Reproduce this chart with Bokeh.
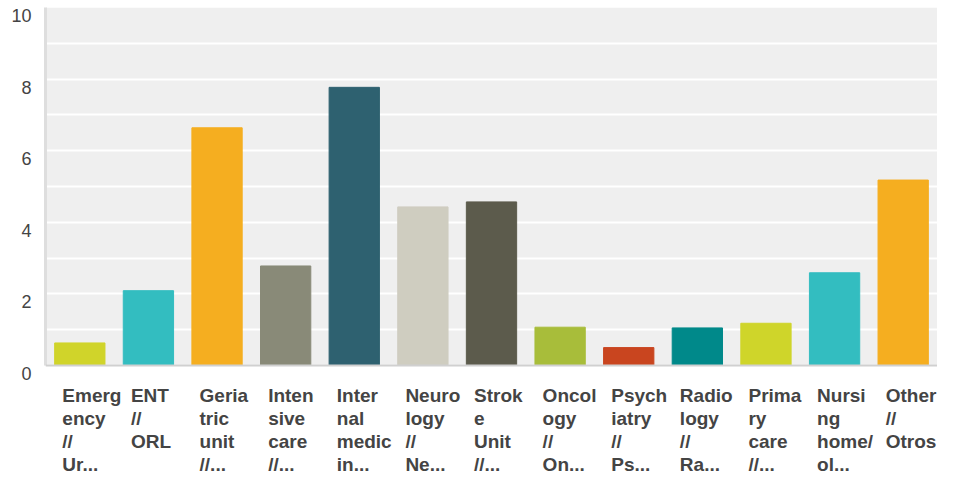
from bokeh.plotting import figure
from bokeh.models import (ColumnDataSource, FixedTicker, Range1d, LinearAxis,
                          BoxAnnotation, Span)
from bokeh.core.properties import value
from bokeh.embed import file_html
from bokeh.resources import INLINE

labels = [
    "Emerg\nency\n//\nUr...",
    "ENT\n//\nORL",
    "Geria\ntric\nunit\n//...",
    "Inten\nsive\ncare\n//...",
    "Inter\nnal\nmedic\nin...",
    "Neuro\nlogy\n//\nNe...",
    "Strok\ne\nUnit\n//...",
    "Oncol\nogy\n//\nOn...",
    "Psych\niatry\n//\nPs...",
    "Radio\nlogy\n//\nRa...",
    "Prima\nry\ncare\n//...",
    "Nursi\nng\nhome/\nol...",
    "Other\n//\nOtros",
]
values = [0.63, 2.09, 6.64, 2.78, 7.77, 4.43, 4.57, 1.07, 0.50, 1.05, 1.18, 2.59, 5.18]
colors = ["#d0d42a", "#33bdc0", "#f5ae20", "#898a78", "#2e6170", "#cfcdc0", "#5c5b4c",
          "#a8bd3a", "#c9451f", "#00898a", "#cfd52a", "#33bdc0", "#f5ae20"]
y_ticks = [0, 2, 4, 6, 8, 10]
grid_ticks = list(range(0, 11))
Y_MAX = 10

# ---- layout constants (pixels) ----
WIDTH, HEIGHT = 937, 475
FRAME_LEFT = 45
FRAME_TOP = 7           # top of plotting area
AXIS_Y = 365            # pixel row of value 0
PX_PER_UNIT = (AXIS_Y - FRAME_TOP) / Y_MAX
Y_BOTTOM = -(HEIGHT - AXIS_Y) / PX_PER_UNIT
LABEL_SHIFT = 8.0 / PX_PER_UNIT      # y tick labels sit a little below their grid lines
FIRST_BASELINE = 402 - 7 - AXIS_Y    # px below axis (text renders ~7px lower)
LINE_STEP = 23.0

idx = list(range(len(labels)))
source = ColumnDataSource(dict(
    x=[i + 0.255 for i in idx],
    top=values,
    color=colors,
))

lx, ly, lt = [], [], []
for i, lab in enumerate(labels):
    for k, line in enumerate(lab.split("\n")):
        lx.append(i)
        ly.append(-(FIRST_BASELINE + k * LINE_STEP) / PX_PER_UNIT)
        lt.append(line)
lsource = ColumnDataSource(dict(x=lx, y=ly, text=lt))

p = figure(width=WIDTH, height=HEIGHT, output_backend="svg", toolbar_location=None,
           x_range=Range1d(-0.245, len(labels) - 0.245),
           y_range=Range1d(Y_BOTTOM, Y_MAX),
           x_axis_location=None, y_axis_location=None,
           min_border_left=FRAME_LEFT, min_border_right=0, min_border_top=FRAME_TOP,
           min_border_bottom=0)

p.background_fill_color = "white"
p.border_fill_color = "white"
p.outline_line_color = None

# grey plotting panel from 0 to Y_MAX
p.add_layout(BoxAnnotation(bottom=0, top=Y_MAX, fill_color="#efefef", fill_alpha=1,
                           line_color=None, level="image"))

p.xgrid.visible = False
p.ygrid.ticker = FixedTicker(ticks=grid_ticks)
p.ygrid.grid_line_color = "white"
p.ygrid.grid_line_width = 2

p.vbar(x="x", top="top", width=0.733, bottom=0, color="color", source=source)

# category labels, left aligned, one text per line
p.text(x="x", y="y", text="text", source=lsource,
       text_align="left", text_baseline="alphabetic",
       text_font=value("Liberation Sans"), text_font_style="bold",
       text_font_size="19px", text_color="#444444")

# x axis line at 0
p.add_layout(Span(location=0, dimension="width", line_color="#d0d0d0", line_width=2))

# y axis (labels slightly below the grid lines as in the original)
p.extra_y_ranges = {"lab": Range1d(Y_BOTTOM + LABEL_SHIFT, Y_MAX + LABEL_SHIFT)}
yax = LinearAxis(y_range_name="lab", ticker=FixedTicker(ticks=y_ticks),
                 bounds=(LABEL_SHIFT, Y_MAX + LABEL_SHIFT))
yax.major_label_text_font = "Liberation Sans"
yax.major_label_text_font_size = "18px"
yax.major_label_text_color = "#444444"
yax.major_label_standoff = 14
yax.major_tick_line_color = None
yax.major_tick_out = 0
yax.minor_tick_line_color = None
yax.minor_tick_out = 0
yax.axis_line_color = "#dedede"
yax.axis_line_width = 3
p.add_layout(yax, "left")

open("out.html", "w").write(file_html(p, INLINE))
